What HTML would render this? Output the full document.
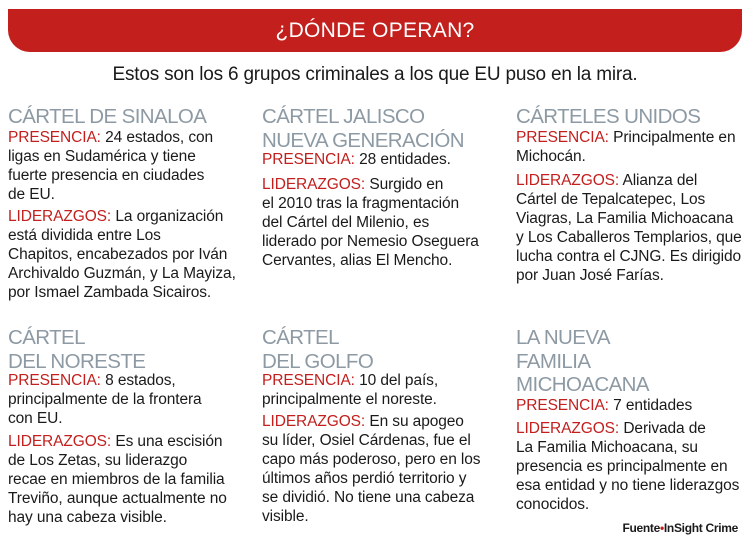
<!DOCTYPE html>
<html><head><meta charset="utf-8"><style>
body{margin:0;width:750px;height:547px;background:#fff;position:relative;overflow:hidden;font-family:"Liberation Sans",sans-serif;color:#1a1a1a}
.banner{position:absolute;left:8px;top:9px;width:734px;height:43px;background:#c21f1d;border-radius:0 0 22px 22px;color:#fff;font-size:21px;text-align:center;line-height:43px;letter-spacing:0.3px}
.sub{position:absolute;left:0;width:750px;top:63px;text-align:center;font-size:19px;line-height:24px;letter-spacing:-0.2px}
.b{position:absolute;font-size:15.5px;line-height:19px;letter-spacing:-0.1px;white-space:nowrap}
.t{position:absolute;font-size:20.5px;line-height:23.5px;color:#8d9aa4;white-space:nowrap;letter-spacing:-0.6px}
.r{color:#c21f1d}
.src{position:absolute;right:12px;top:521px;font-size:12px;font-weight:bold;letter-spacing:-0.3px}
</style></head><body>
<div class="banner">¿DÓNDE OPERAN?</div>
<div class="sub">Estos son los 6 grupos criminales a los que EU puso en la mira.</div>

<div class="t" style="left:8px;top:105px">CÁRTEL DE SINALOA</div>
<div class="b" style="left:8px;top:128px"><span class="r">PRESENCIA:</span> 24 estados, con<br>ligas en Sudamérica y tiene<br>fuerte presencia en ciudades<br>de EU.</div>
<div class="b" style="left:8px;top:207px"><span class="r">LIDERAZGOS:</span> La organización<br>está dividida entre Los<br>Chapitos, encabezados por Iván<br>Archivaldo Guzmán, y La Mayiza,<br>por Ismael Zambada Sicairos.</div>

<div class="t" style="left:262px;top:105px">CÁRTEL JALISCO<br>NUEVA GENERACIÓN</div>
<div class="b" style="left:262px;top:150px"><span class="r">PRESENCIA:</span> 28 entidades.</div>
<div class="b" style="left:262px;top:175px"><span class="r">LIDERAZGOS:</span> Surgido en<br>el 2010 tras la fragmentación<br>del Cártel del Milenio, es<br>liderado por Nemesio Oseguera<br>Cervantes, alias El Mencho.</div>

<div class="t" style="left:516px;top:105px">CÁRTELES UNIDOS</div>
<div class="b" style="left:516px;top:128px"><span class="r">PRESENCIA:</span> Principalmente en<br>Michocán.</div>
<div class="b" style="left:516px;top:171px"><span class="r">LIDERAZGOS:</span> Alianza del<br>Cártel de Tepalcatepec, Los<br>Viagras, La Familia Michoacana<br>y Los Caballeros Templarios, que<br>lucha contra el CJNG. Es dirigido<br>por Juan José Farías.</div>

<div class="t" style="left:8px;top:326px">CÁRTEL<br>DEL NORESTE</div>
<div class="b" style="left:8px;top:371px"><span class="r">PRESENCIA:</span> 8 estados,<br>principalmente de la frontera<br>con EU.</div>
<div class="b" style="left:8px;top:432px"><span class="r">LIDERAZGOS:</span> Es una escisión<br>de Los Zetas, su liderazgo<br>recae en miembros de la familia<br>Treviño, aunque actualmente no<br>hay una cabeza visible.</div>

<div class="t" style="left:262px;top:326px">CÁRTEL<br>DEL GOLFO</div>
<div class="b" style="left:262px;top:371px"><span class="r">PRESENCIA:</span> 10 del país,<br>principalmente el noreste.</div>
<div class="b" style="left:262px;top:412px"><span class="r">LIDERAZGOS:</span> En su apogeo<br>su líder, Osiel Cárdenas, fue el<br>capo más poderoso, pero en los<br>últimos años perdió territorio y<br>se dividió. No tiene una cabeza<br>visible.</div>

<div class="t" style="left:516px;top:326px">LA NUEVA<br>FAMILIA<br>MICHOACANA</div>
<div class="b" style="left:516px;top:396px"><span class="r">PRESENCIA:</span> 7 entidades</div>
<div class="b" style="left:516px;top:419px"><span class="r">LIDERAZGOS:</span> Derivada de<br>La Familia Michoacana, su<br>presencia es principalmente en<br>esa entidad y no tiene liderazgos<br>conocidos.</div>

<div class="src">Fuente<span style="color:#c21f1d">•</span>InSight Crime</div>
</body></html>
